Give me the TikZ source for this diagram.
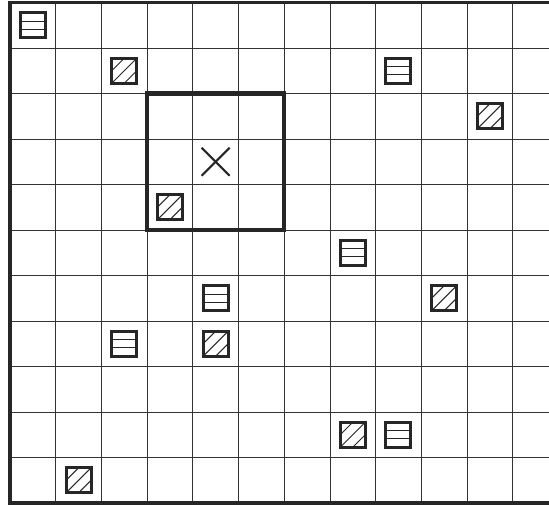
\documentclass[tikz,border=0pt]{standalone}
\begin{document}
\begin{tikzpicture}[x=45.7pt,y=-45.5pt,
  gridline/.style={line width=0.8pt,black!80},
  frame/.style={line width=3.4pt,black!85,line cap=rect},
  bigbox/.style={line width=4.4pt,black!85},
  mk/.style={draw=black!85,line width=3pt,minimum size=25pt,inner sep=0pt,fill=white},
  eqmk/.style={mk,path picture={
    \draw[line width=1pt,black!85] (path picture bounding box.center) ++(-15pt,4.2pt) -- ++(30pt,0pt);
    \draw[line width=1pt,black!85] (path picture bounding box.center) ++(-15pt,-4.2pt) -- ++(30pt,0pt);}},
  hmk/.style={mk,path picture={
    \foreach \c in {-12.5,0,12.5}{
      \draw[line width=1pt,black!85] (path picture bounding box.center) ++(-20pt,-20pt+\c pt) -- ++(40pt,40pt);}}},
  cross/.style={line width=2pt,black!85}
]
\useasboundingbox (-10pt,2.5pt) rectangle (539pt,-503.5pt);
% grid
\foreach \i in {1,...,11} \draw[gridline] (\i,0) -- (\i,11);
\foreach \j in {1,...,10} \draw[gridline] (0,\j) -- (11.8,\j);
% frame
\draw[frame] (11.8,0) -- (0,0) -- (0,11) -- (11.8,11);
% big box
\draw[bigbox] (3,2) rectangle (6,5);
% cross
\coordinate (xc) at (4.5,3.5);
\draw[cross] ([shift={(-14pt,-14pt)}]xc) -- ([shift={(14pt,14pt)}]xc);
\draw[cross] ([shift={(-14pt,14pt)}]xc) -- ([shift={(14pt,-14pt)}]xc);
% equals markers
\node[eqmk] (e1) at (0.5,0.5) {};
\node[eqmk] (e2) at (8.5,1.5) {};
\node[eqmk] (e3) at (7.5,5.5) {};
\node[eqmk] (e4) at (4.5,6.5) {};
\node[eqmk] (e5) at (2.5,7.5) {};
\node[eqmk] (e6) at (8.5,9.5) {};
% hatched markers
\node[hmk] (h1) at (2.5,1.5) {};
\node[hmk] (h2) at (10.5,2.5) {};
\node[hmk] (h3) at (3.5,4.5) {};
\node[hmk] (h4) at (9.5,6.5) {};
\node[hmk] (h5) at (4.5,7.5) {};
\node[hmk] (h6) at (7.5,9.5) {};
\node[hmk] (h7) at (1.5,10.5) {};
\end{tikzpicture}
\end{document}
